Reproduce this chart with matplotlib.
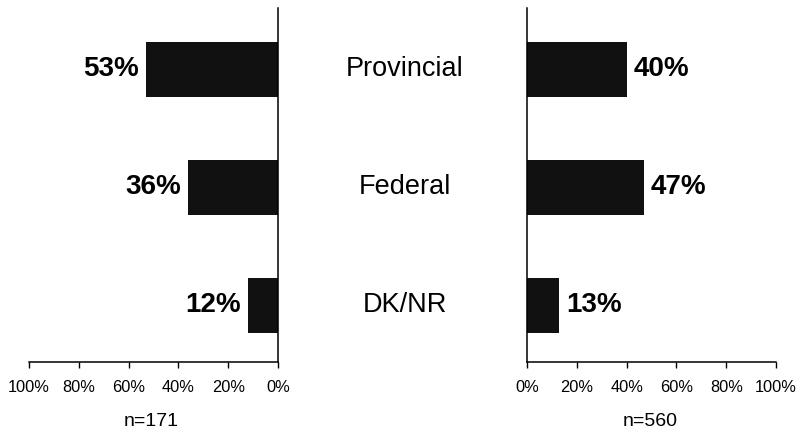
import matplotlib
matplotlib.use('Agg')
import matplotlib.pyplot as plt
import numpy as np

# Data
categories = ['Provincial', 'Federal', 'DK/NR']
left_values = [53, 36, 12]
right_values = [40, 47, 13]
left_n = 'n=171'
right_n = 'n=560'
tick_vals = [0, 20, 40, 60, 80, 100]
tick_labels = ['0%', '20%', '40%', '60%', '80%', '100%']

plt.rcParams['font.family'] = ['Liberation Sans', 'DejaVu Sans']

W, H = 798, 437
fig = plt.figure(figsize=(W / 100, H / 100), dpi=100)

def px_axes(x0, x1, y0, y1):
    return fig.add_axes([x0 / W, 1 - y1 / H, (x1 - x0) / W, (y1 - y0) / H])

ax_l = px_axes(29, 278, 8, 362)
ax_r = px_axes(527, 776, 8, 362)

y = np.arange(len(categories))
bar_h = 0.46

for ax, vals, side in [(ax_l, left_values, 'left'), (ax_r, right_values, 'right')]:
    ax.barh(y, vals, height=bar_h, color='#111111')
    ax.set_ylim(2.48, -0.52)
    ax.set_xlim(0, 100)
    ax.set_xticks(tick_vals)
    ax.set_xticklabels(tick_labels, fontsize=11.8)
    ax.set_yticks([])
    ax.spines['top'].set_visible(False)
    ax.tick_params(axis='x', direction='out', length=4, width=1, pad=9)
    for s in ('bottom', 'left', 'right'):
        ax.spines[s].set_linewidth(1.1)
    for yi, v in zip(y, vals):
        if side == 'left':
            ax.annotate('%d%%' % v, (v, yi), xytext=(-5, 0), textcoords='offset points',
                        ha='right', va='center', fontsize=20, fontweight='bold')
        else:
            ax.annotate('%d%%' % v, (v, yi), xytext=(5, 0), textcoords='offset points',
                        ha='left', va='center', fontsize=20, fontweight='bold')

ax_l.invert_xaxis()
ax_l.spines['left'].set_visible(False)
ax_r.spines['right'].set_visible(False)

# category labels in the middle
for yi, cat in zip(y, categories):
    ax_l.annotate(cat, xy=(405 / W, yi), xycoords=('figure fraction', 'data'),
                  ha='center', va='center', fontsize=19.5)

fig.text(151 / W, 1 - 421 / H, left_n, ha='center', va='center', fontsize=14)
fig.text(650 / W, 1 - 421 / H, right_n, ha='center', va='center', fontsize=14)

fig.savefig('out.png', dpi=100)
